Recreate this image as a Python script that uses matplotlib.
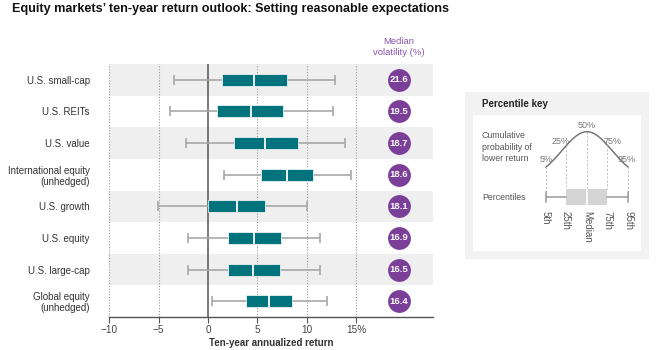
import numpy as np
import matplotlib.pyplot as plt
from matplotlib.patches import Rectangle

plt.rcParams['font.family'] = ['Liberation Sans', 'DejaVu Sans']

# data
categories = ['U.S. small-cap', 'U.S. REITs', 'U.S. value', 'International equity\n(unhedged)',
              'U.S. growth', 'U.S. equity', 'U.S. large-cap', 'Global equity\n(unhedged)']
p5 = [-3.4, -3.9, -2.2, 1.6, -5.1, -2.0, -2.0, 0.4]
p25 = [1.4, 0.9, 2.6, 5.4, 0.0, 2.0, 2.0, 3.8]
p50 = [4.7, 4.3, 5.8, 8.0, 2.9, 4.7, 4.6, 6.2]
p75 = [8.0, 7.6, 9.1, 10.6, 5.8, 7.4, 7.3, 8.5]
p95 = [12.9, 12.7, 13.9, 14.5, 10.0, 11.3, 11.3, 12.0]
volatility = [21.6, 19.5, 18.7, 18.6, 18.1, 16.9, 16.5, 16.4]
xticks = [-10, -5, 0, 5, 10, 15]
xticklabels = ['\u221210', '\u22125', '0', '5', '10', '15%']

teal = '#00737d'
purple = '#7b3f99'
W, H = 662, 350

fig = plt.figure(figsize=(W / 100, H / 100), dpi=100)

# main chart
ax = fig.add_axes([109.3 / W, 1 - 317 / H, (433 - 109.3) / W, 253 / H])
ax.set_xlim(-10, 22.78)
ax.set_ylim(7.5, -0.5)
ys = np.arange(len(categories))

for i in ys:
    if i % 2 == 0:
        ax.axhspan(i - 0.5, i + 0.5, color='#efefef', lw=0, zorder=0)
for x in [-10, -5, 5, 10, 15]:
    ax.axvline(x, color='#9a9a9a', lw=0.8, ls=(0, (1, 1.5)), zorder=1)
ax.axvline(0, color='#555555', lw=1.1, zorder=2)

bh = 0.38
ax.hlines(ys, p5, p25, color='#a8a8a8', lw=1.2, zorder=2)
ax.hlines(ys, p75, p95, color='#a8a8a8', lw=1.2, zorder=2)
ax.vlines(p5, ys - 0.16, ys + 0.16, color='#a8a8a8', lw=1.2, zorder=2)
ax.vlines(p95, ys - 0.16, ys + 0.16, color='#a8a8a8', lw=1.2, zorder=2)
ax.barh(ys, np.array(p75) - np.array(p25), left=p25, height=bh, color=teal,
        edgecolor='white', lw=0.5, zorder=3)
ax.vlines(p50, ys - bh / 2, ys + bh / 2, color='white', lw=1.3, zorder=4)

vx = 19.3
ax.scatter([vx] * len(ys), ys, s=270, color=purple, zorder=5, clip_on=False, lw=0)
for y, v in zip(ys, volatility):
    ax.text(vx, y, f'{v:.1f}', color='white', fontsize=6.8, ha='center', va='center',
            weight='semibold', zorder=6)
ax.text(vx, -0.72, 'Median\nvolatility (%)', color='#8a55b0', fontsize=6.8,
        ha='center', va='bottom', linespacing=1.25)

for s in ['top', 'right', 'left']:
    ax.spines[s].set_visible(False)
ax.spines['bottom'].set_color('#555555')
ax.spines['bottom'].set_linewidth(1)
ax.set_xticks(xticks)
ax.set_xticklabels(xticklabels)
ax.tick_params(axis='x', length=4, color='#555555', labelsize=7.2, labelcolor='#444444', pad=2)
ax.set_yticks(ys)
ax.set_yticklabels(categories, linespacing=1.15)
ax.tick_params(axis='y', length=0, labelsize=7, labelcolor='#333333', pad=14)

fig.text(12 / W, 1 - 3 / H, 'Equity markets\u2019 ten-year return outlook: Setting reasonable expectations',
         fontsize=9.1, weight='bold', ha='left', va='top', color='#111111')
fig.text(271 / W, 1 - 343 / H, 'Ten-year annualized return', fontsize=7, weight='semibold',
         color='#333333', ha='center', va='center')

# percentile key in pixel coordinates
kx = fig.add_axes([0, 0, 1, 1])
kx.set_xlim(0, W)
kx.set_ylim(H, 0)
kx.axis('off')
kx.patch.set_visible(False)
kx.add_patch(Rectangle((465, 92), 184, 167, color='#f2f2f2', lw=0))
kx.add_patch(Rectangle((473, 115), 168, 136, color='white', lw=0))
kx.text(482, 104, 'Percentile key', fontsize=7, weight='bold', color='#222222', va='center')
kx.text(482, 147, 'Cumulative\nprobability of\nlower return', fontsize=6.3, color='#555555',
        va='center', linespacing=1.3)
kx.text(482, 197, 'Percentiles', fontsize=6.3, color='#555555', va='center')

key_x = [546, 566, 587, 607, 628]
key_pct = ['5%', '25%', '50%', '75%', '95%']
key_lbl = ['5th', '25th', 'Median', '75th', '95th']

sig = (key_x[4] - key_x[0]) / (2 * 1.645)
cx = np.linspace(key_x[0], key_x[4], 200)
def bell(x):
    return 179.3 - 47.6 * np.exp(-((x - key_x[2]) / sig) ** 2 / 2)
kx.plot(cx, bell(cx), color='#777777', lw=1.1)

box_top, box_bot, wy = 189, 205, 197
for i, x in enumerate(key_x):
    yb = wy if i in (0, 4) else box_top
    kx.plot([x, x], [bell(x), yb], color='#bbbbbb', lw=0.7, ls=(0, (2, 2)))
kx.add_patch(Rectangle((key_x[1], box_top), key_x[3] - key_x[1], box_bot - box_top,
                       color='#d4d4d4', lw=0))
kx.plot([key_x[2], key_x[2]], [box_top, box_bot], color='white', lw=1.2)
kx.plot([key_x[0], key_x[1]], [wy, wy], color='#9a9a9a', lw=1.1)
kx.plot([key_x[3], key_x[4]], [wy, wy], color='#9a9a9a', lw=1.1)
for x in (key_x[0], key_x[4]):
    kx.plot([x, x], [wy - 5, wy + 5], color='#9a9a9a', lw=1.1)

pct_pos = [(546, 160), (561, 141), (587, 126), (613, 141), (627, 160)]
for (px, py), t in zip(pct_pos, key_pct):
    kx.text(px, py, t, fontsize=6.5, color='#777777', ha='center', va='center')
for x, t in zip(key_x, key_lbl):
    kx.text(x, 211, t, fontsize=7, color='#555555', rotation=-90, ha='center', va='top')

fig.savefig('out.png', dpi=100)
